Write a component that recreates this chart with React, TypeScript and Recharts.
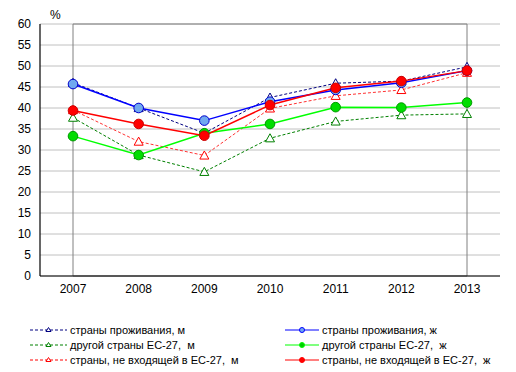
import React from 'react';
import { LineChart, Line, XAxis, YAxis, CartesianGrid, ReferenceArea } from 'recharts';

const years = ['2007', '2008', '2009', '2010', '2011', '2012', '2013'];
const homeM = [46.0, 40.0, 34.0, 42.5, 45.9, 46.4, 49.8];
const homeF = [45.7, 40.0, 37.0, 41.5, 44.3, 46.0, 48.9];
const euM = [37.7, 28.8, 24.8, 32.8, 36.8, 38.3, 38.6];
const euF = [33.3, 28.8, 34.0, 36.2, 40.2, 40.1, 41.3];
const nonEuM = [39.5, 32.0, 28.7, 39.9, 42.9, 44.3, 48.4];
const nonEuF = [39.4, 36.2, 33.4, 40.7, 44.8, 46.4, 48.9];
const yTicks = [0, 5, 10, 15, 20, 25, 30, 35, 40, 45, 50, 55, 60];

const seriesNames = {
  homeM: 'страны проживания, м',
  homeF: 'страны проживания, ж',
  euM: 'другой страны ЕС-27,  м',
  euF: 'другой страны ЕС-27,  ж',
  nonEuM: 'страны, не входящей в ЕС-27,  м',
  nonEuF: 'страны, не входящей в ЕС-27,  ж',
};

const data = years.map((y, i) => ({
  year: y,
  homeM: homeM[i],
  homeF: homeF[i],
  euM: euM[i],
  euF: euF[i],
  nonEuM: nonEuM[i],
  nonEuF: nonEuF[i],
}));

const FONT = '"Liberation Sans", Arial, sans-serif';

const makeTriangle = (color: string) => (props: any) => {
  const { cx, cy, index } = props;
  if (cx == null || cy == null) return <g key={index} />;
  const s = 4.5;
  return (
    <path
      key={index}
      d={`M${cx},${cy - s} L${cx + s},${cy + s * 0.8} L${cx - s},${cy + s * 0.8} Z`}
      fill="#FFFFFF"
      stroke={color}
      strokeWidth={1}
    />
  );
};

const makeCircle = (fill: string, stroke: string) => (props: any) => {
  const { cx, cy, index } = props;
  if (cx == null || cy == null) return <g key={index} />;
  return <circle key={index} cx={cx} cy={cy} r={4.8} fill={fill} stroke={stroke} strokeWidth={1} />;
};

const legendLeft = [
  { name: seriesNames.homeM, color: '#000080', dashed: true, fill: '#FFFFFF' },
  { name: seriesNames.euM, color: '#008000', dashed: true, fill: '#FFFFFF' },
  { name: seriesNames.nonEuM, color: '#FF0000', dashed: true, fill: '#FFFFFF' },
];
const legendRight = [
  { name: seriesNames.homeF, color: '#0000FF', dashed: false, fill: '#70A8F0' },
  { name: seriesNames.euF, color: '#00FF00', dashed: false, fill: '#00CC00' },
  { name: seriesNames.nonEuF, color: '#FF0000', dashed: false, fill: '#FF0000' },
];

const LegendItem = ({ item, lineW }: any) => (
  <div style={{ display: 'flex', alignItems: 'center', height: 15 }}>
    <svg width={lineW} height={10} style={{ marginRight: 3 }}>
      <line
        x1={0}
        y1={5}
        x2={lineW}
        y2={5}
        stroke={item.color}
        strokeWidth={1}
        strokeDasharray={item.dashed ? '3 2' : undefined}
      />
      {item.dashed ? (
        <path
          d={`M${lineW / 2},2.5 L${lineW / 2 + 2.5},6.5 L${lineW / 2 - 2.5},6.5 Z`}
          fill="#FFFFFF"
          stroke={item.color}
          strokeWidth={1}
        />
      ) : (
        <circle cx={lineW / 2} cy={5} r={2.5} fill={item.fill} stroke={item.color} strokeWidth={1} />
      )}
    </svg>
    <span style={{ fontSize: 11, color: '#000', whiteSpace: 'pre' }}>{item.name}</span>
  </div>
);

export default function App() {
  return (
    <div style={{ position: 'absolute', left: 0, top: 0, width: 516, height: 372, background: '#fff' }}>
      <LineChart
        width={516}
        height={372}
        data={data}
        margin={{ top: 24, right: 16, bottom: 66, left: 0 }}
        style={{ fontFamily: FONT }}
      >
        <CartesianGrid vertical={false} stroke="#C0C0C0" strokeWidth={1} />
        <ReferenceArea y1={0} y2={60} fill="none" stroke="#808080" strokeWidth={1} ifOverflow="visible" />
        <XAxis
          dataKey="year"
          height={30}
          padding={{ left: 33, right: 33 }}
          tickLine={false}
          axisLine={{ stroke: '#000', strokeWidth: 1.2 }}
          tick={{ fill: '#000', fontSize: 12 }}
          tickSize={6}
          tickMargin={2}
        />
        <YAxis
          width={40}
          domain={[0, 60]}
          ticks={yTicks}
          interval={0}
          tickLine={false}
          axisLine={{ stroke: '#000', strokeWidth: 1.2 }}
          tick={{ fill: '#000', fontSize: 12 }}
          tickSize={0}
          tickMargin={9}
        />
        <Line
          dataKey="euM"
          name={seriesNames.euM}
          stroke="#008000"
          strokeWidth={1}
          strokeDasharray="3 2"
          dot={makeTriangle('#008000')}
          isAnimationActive={false}
        />
        <Line
          dataKey="nonEuM"
          name={seriesNames.nonEuM}
          stroke="#FF3333"
          strokeWidth={1}
          strokeDasharray="3 2"
          dot={makeTriangle('#FF0000')}
          isAnimationActive={false}
        />
        <Line
          dataKey="homeM"
          name={seriesNames.homeM}
          stroke="#000080"
          strokeWidth={1}
          strokeDasharray="3 2"
          dot={makeTriangle('#000080')}
          isAnimationActive={false}
        />
        <Line
          dataKey="euF"
          name={seriesNames.euF}
          stroke="#00FF00"
          strokeWidth={1.5}
          dot={makeCircle('#00DD00', '#009900')}
          isAnimationActive={false}
        />
        <Line
          dataKey="homeF"
          name={seriesNames.homeF}
          stroke="#0000FF"
          strokeWidth={1.5}
          dot={makeCircle('#70A8F0', '#0000CC')}
          isAnimationActive={false}
        />
        <Line
          dataKey="nonEuF"
          name={seriesNames.nonEuF}
          stroke="#FF0000"
          strokeWidth={1.5}
          dot={makeCircle('#FF0000', '#CC0000')}
          isAnimationActive={false}
        />
      </LineChart>
      <div
        style={{
          position: 'absolute',
          left: 50,
          top: 8,
          fontFamily: FONT,
          fontSize: 12,
          color: '#000',
        }}
      >
        %
      </div>
      <div style={{ position: 'absolute', left: 0, top: 322, width: 516, height: 50, fontFamily: FONT }}>
        <div style={{ position: 'absolute', left: 30, top: 0 }}>
          {legendLeft.map((it) => (
            <LegendItem key={it.name} item={it} lineW={37} />
          ))}
        </div>
        <div style={{ position: 'absolute', left: 285, top: 0 }}>
          {legendRight.map((it) => (
            <LegendItem key={it.name} item={it} lineW={34} />
          ))}
        </div>
      </div>
    </div>
  );
}
